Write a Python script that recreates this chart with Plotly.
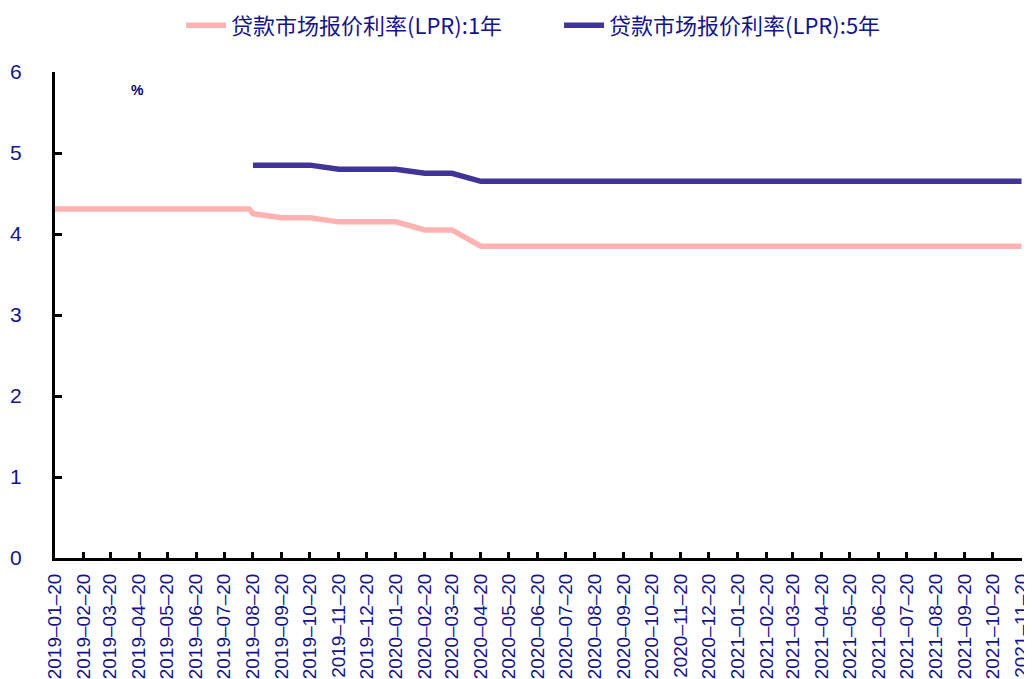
import plotly.graph_objects as go

months = [
    "2019-01-20", "2019-02-20", "2019-03-20", "2019-04-20", "2019-05-20", "2019-06-20",
    "2019-07-20", "2019-08-20", "2019-09-20", "2019-10-20", "2019-11-20", "2019-12-20",
    "2020-01-20", "2020-02-20", "2020-03-20", "2020-04-20", "2020-05-20", "2020-06-20",
    "2020-07-20", "2020-08-20", "2020-09-20", "2020-10-20", "2020-11-20", "2020-12-20",
    "2021-01-20", "2021-02-20", "2021-03-20", "2021-04-20", "2021-05-20", "2021-06-20",
    "2021-07-20", "2021-08-20", "2021-09-20", "2021-10-20", "2021-11-20",
]

lpr1_dates = [
    "2019-01-20", "2019-02-20", "2019-03-20", "2019-04-20", "2019-05-20", "2019-06-20",
    "2019-07-20", "2019-08-16", "2019-08-20", "2019-09-20", "2019-10-20", "2019-11-20",
    "2019-12-20", "2020-01-20", "2020-02-20", "2020-03-20", "2020-04-20", "2020-05-20",
    "2020-06-20", "2020-07-20", "2020-08-20", "2020-09-20", "2020-10-20", "2020-11-20",
    "2020-12-20", "2021-01-20", "2021-02-20", "2021-03-20", "2021-04-20", "2021-05-20",
    "2021-06-20", "2021-07-20", "2021-08-20", "2021-09-20", "2021-10-20", "2021-11-20",
]
lpr1_values = [
    4.31, 4.31, 4.31, 4.31, 4.31, 4.31,
    4.31, 4.31, 4.25, 4.20, 4.20, 4.15,
    4.15, 4.15, 4.05, 4.05, 3.85, 3.85,
    3.85, 3.85, 3.85, 3.85, 3.85, 3.85,
    3.85, 3.85, 3.85, 3.85, 3.85, 3.85,
    3.85, 3.85, 3.85, 3.85, 3.85, 3.85,
]

lpr5_dates = [
    "2019-08-20", "2019-09-20", "2019-10-20", "2019-11-20", "2019-12-20",
    "2020-01-20", "2020-02-20", "2020-03-20", "2020-04-20", "2020-05-20", "2020-06-20",
    "2020-07-20", "2020-08-20", "2020-09-20", "2020-10-20", "2020-11-20", "2020-12-20",
    "2021-01-20", "2021-02-20", "2021-03-20", "2021-04-20", "2021-05-20", "2021-06-20",
    "2021-07-20", "2021-08-20", "2021-09-20", "2021-10-20", "2021-11-20",
]
lpr5_values = [
    4.85, 4.85, 4.85, 4.80, 4.80,
    4.80, 4.75, 4.75, 4.65, 4.65, 4.65,
    4.65, 4.65, 4.65, 4.65, 4.65, 4.65,
    4.65, 4.65, 4.65, 4.65, 4.65, 4.65,
    4.65, 4.65, 4.65, 4.65, 4.65,
]

series_names = ["贷款市场报价利率(LPR):1年", "贷款市场报价利率(LPR):5年"]
y_ticks = [0, 1, 2, 3, 4, 5, 6]

NAVY = "#14148C"
CJK = "Noto Sans CJK SC"

fig = go.Figure()
fig.add_trace(go.Scatter(
    x=lpr1_dates, y=lpr1_values, mode="lines", name=series_names[0],
    line=dict(color="#FFB2B2", width=5.5),
))
fig.add_trace(go.Scatter(
    x=lpr5_dates, y=lpr5_values, mode="lines", name=series_names[1],
    line=dict(color="#413498", width=5.5),
))

# page body has an 8px margin, so the figure is sized to fill the rest
fig.update_layout(
    width=1024, height=671,
    margin=dict(l=47, r=10, t=64, b=121, autoexpand=False),
    paper_bgcolor="white", plot_bgcolor="white",
    showlegend=True,
    legend=dict(
        orientation="h", xref="container", yref="container",
        x=0.169, xanchor="left", y=0.974, yanchor="middle",
        font=dict(family=CJK, size=22, color=NAVY),
        bgcolor="rgba(0,0,0,0)", itemwidth=40, entrywidth=323,
    ),
    xaxis=dict(
        type="date",
        range=["2019-01-20", "2021-11-20 12:00"],
        tickmode="array", tickvals=months,
        tickformat="%Y–%m–%d", tickangle=-90,
        ticks="inside", ticklen=6, tickwidth=3, tickcolor="black",
        showline=True, linecolor="black", linewidth=3,
        showgrid=False, zeroline=False, automargin=False,
        tickfont=dict(family="Liberation Sans, Arial", size=19, color=NAVY),
        ticklabelstandoff=5, ticklabeloverflow="allow",
    ),
    yaxis=dict(
        range=[0, 6], tickmode="array", tickvals=y_ticks,
        ticks="inside", ticklen=7, tickwidth=3, tickcolor="black",
        showline=True, linecolor="black", linewidth=3,
        showgrid=False, zeroline=False, automargin=False,
        tickfont=dict(family="Liberation Sans, Arial", size=21, color=NAVY),
        ticklabelstandoff=26,
    ),
    annotations=[dict(
        text="<b>%</b>", xref="paper", yref="paper",
        x=0.0856, y=0.963, xanchor="center", yanchor="middle", showarrow=False,
        font=dict(family="Liberation Sans, Arial", size=14, color="#000080"),
    )],
)

fig.write_html("out.html")
